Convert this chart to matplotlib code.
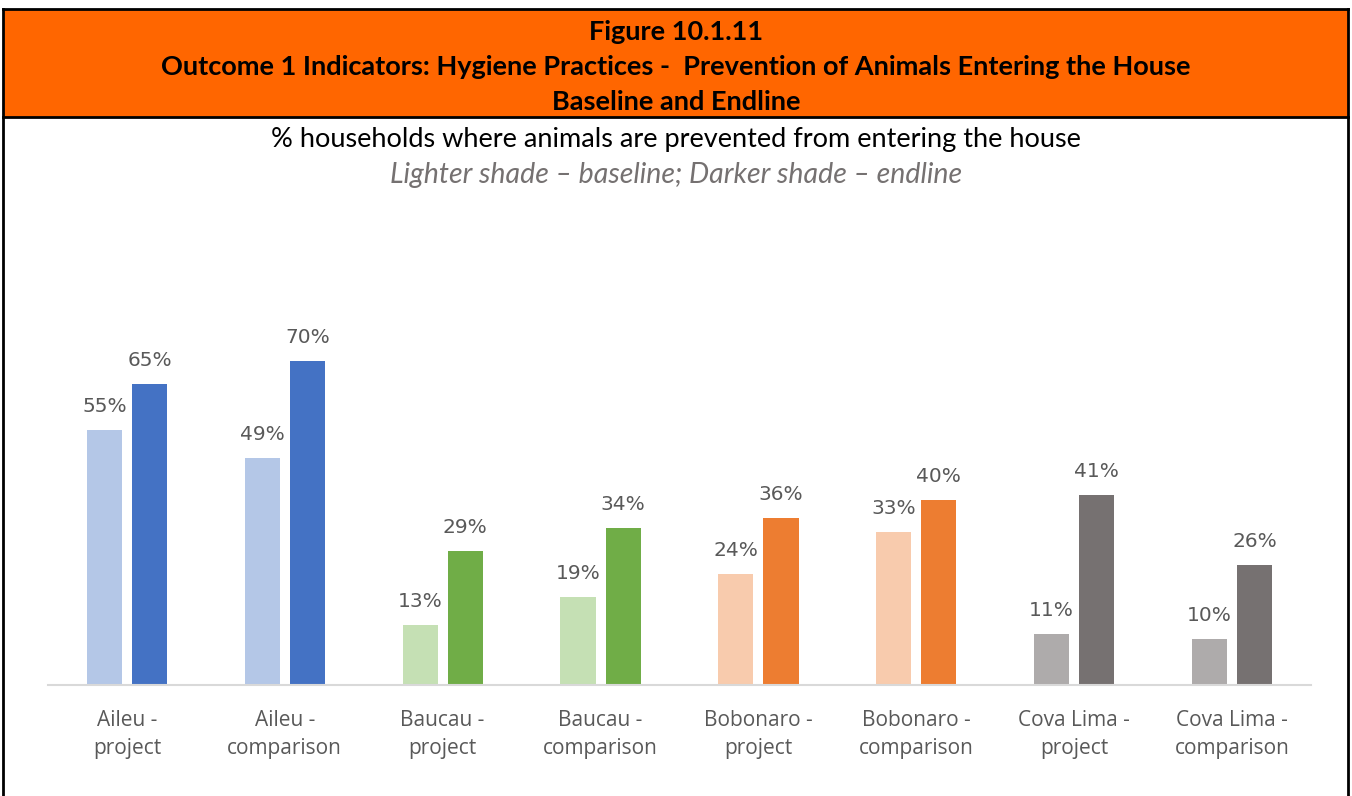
import matplotlib
matplotlib.use("Agg")
import matplotlib.pyplot as plt
import numpy as np
from matplotlib.patches import Rectangle
from matplotlib.lines import Line2D

categories = ["Aileu -\nproject", "Aileu -\ncomparison", "Baucau -\nproject",
              "Baucau -\ncomparison", "Bobonaro -\nproject", "Bobonaro -\ncomparison",
              "Cova Lima -\nproject", "Cova Lima -\ncomparison"]
baseline = [55, 49, 13, 19, 24, 33, 11, 10]
endline = [65, 70, 29, 34, 36, 40, 41, 26]

light = ["#B4C7E7", "#B4C7E7", "#C5E0B4", "#C5E0B4", "#F8CBAD", "#F8CBAD", "#AEABAB", "#AEABAB"]
dark = ["#4472C4", "#4472C4", "#70AD47", "#70AD47", "#ED7D31", "#ED7D31", "#767171", "#767171"]

W, H = 1352, 796
fig = plt.figure(figsize=(W / 100, H / 100), dpi=100)

def fx(px):
    return px / W

def fy(py):
    return 1 - py / H

# header band and frame
fig.patches.append(Rectangle((fx(3), fy(117)), fx(1345), 108 / H, transform=fig.transFigure,
                             facecolor="#FF6600", edgecolor="none"))
for xs, ys in [([3, 1348], [9, 9]), ([3, 1348], [117, 117]),
               ([3, 3], [9, 796]), ([1348, 1348], [9, 796])]:
    fig.lines.append(Line2D([fx(x) for x in xs], [fy(y) for y in ys], transform=fig.transFigure,
                            color="black", linewidth=2))

hdr = dict(ha="center", va="center", fontsize=19.5, fontweight="bold", family="Lato", color="black")
fig.text(fx(676), fy(32), "Figure 10.1.11", **hdr)
fig.text(fx(676), fy(67), "Outcome 1 Indicators: Hygiene Practices -  Prevention of Animals Entering the House", **hdr)
fig.text(fx(676), fy(102), "Baseline and Endline", **hdr)

fig.text(fx(676), fy(140), "% households where animals are prevented from entering the house",
         ha="center", va="center", fontsize=19.5, family="Lato", color="black")
fig.text(fx(676), fy(175), "Lighter shade \u2013 baseline; Darker shade \u2013 endline",
         ha="center", va="center", fontsize=20.5, family="Lato", style="italic", color="#757171")

ax = fig.add_axes([fx(48), fy(685), 1263 / W, 463 / H])
x = np.arange(len(categories))
bw = 0.222
off = 0.143
b1 = ax.bar(x - off, baseline, bw, color=light)
b2 = ax.bar(x + off, endline, bw, color=dark)

for bars, vals in [(b1, baseline), (b2, endline)]:
    for r, v in zip(bars, vals):
        ax.annotate(f"{v}%", (r.get_x() + r.get_width() / 2, v), xytext=(0, 10),
                    textcoords="offset points", ha="center", va="bottom",
                    fontsize=14.5, family="DejaVu Sans", color="#595959")

ax.set_xlim(-0.5, 7.5)
ax.set_ylim(0, 100)
ax.set_xticks(x)
ax.set_xticklabels(categories, fontsize=15, family="Open Sans", color="#595959", linespacing=1.45)
ax.tick_params(axis="x", length=0, pad=18)
ax.set_yticks([])
for s in ["top", "right", "left"]:
    ax.spines[s].set_visible(False)
ax.spines["bottom"].set_color("#D9D9D9")
ax.spines["bottom"].set_linewidth(1.5)

fig.savefig("out.png", dpi=100)
